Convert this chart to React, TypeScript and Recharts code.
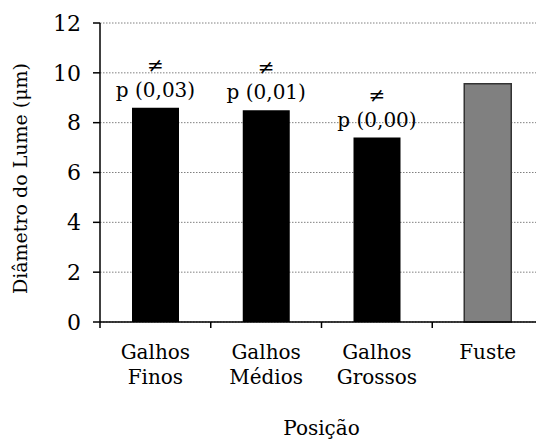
import { BarChart, Bar, XAxis, YAxis, CartesianGrid, Cell, LabelList, Label } from "recharts";

const categories = ["Galhos Finos", "Galhos Médios", "Galhos Grossos", "Fuste"];
const lumen = [8.6, 8.5, 7.4, 9.56];
const pValues = ["p (0,03)", "p (0,01)", "p (0,00)", ""];
const yTicks = [0, 2, 4, 6, 8, 10, 12];
const barColors = ["#000000", "#000000", "#000000", "#808080"];

const data = categories.map((c, i) => ({ posicao: c, diametro: lumen[i], p: pValues[i] }));

const FONT = "DejaVu Serif";
const txt = { fontFamily: FONT, fontSize: 20 };
const W = 545;
const H = 439;
const LEFT = 100;
const RIGHT = 2;
const BAND = (W - LEFT - RIGHT) / categories.length;

function PositionTick(props: any) {
  const { x, y, payload } = props;
  const lines = String(payload.value).split(" ");
  return (
    <g>
      <line x1={x - BAND / 2} x2={x - BAND / 2} y1={y} y2={y + 6} stroke="#000" strokeWidth={1.5} />
      <text x={x} y={y + 37} textAnchor="middle" style={txt} fill="#000">
        {lines.map((l, i) => (
          <tspan key={i} x={x} dy={i === 0 ? 0 : 25}>
            {l}
          </tspan>
        ))}
      </text>
    </g>
  );
}

function SigLabel(props: any) {
  const { x, y, width, value } = props;
  if (!value) return null;
  const cx = x + width / 2;
  return (
    <g>
      <text x={cx} y={y - 36} textAnchor="middle" style={txt} fill="#000">≠</text>
      <text x={cx} y={y - 11} textAnchor="middle" style={txt} fill="#000">{value}</text>
    </g>
  );
}

export default function App() {
  return (
    <div style={{ position: "absolute", left: 0, top: 0, width: 536, height: 439, overflow: "hidden", background: "#fff" }}>
      <BarChart width={W} height={H} data={data} margin={{ top: 23, right: RIGHT, bottom: 0, left: 0 }} barSize={47}>
        <CartesianGrid vertical={false} stroke="#808080" strokeDasharray="1.5 1.5" />
        <XAxis
          dataKey="posicao"
          height={117}
          tickLine={false}
          tickSize={0}
          tickMargin={0}
          axisLine={{ stroke: "#000", strokeWidth: 1.5 }}
          tick={<PositionTick />}
          interval={0}
        >
          <Label
            content={(p: any) => {
              const vb = p.viewBox;
              return (
                <text x={vb.x + vb.width / 2} y={vb.y + 113} textAnchor="middle" style={txt} fill="#000">
                  Posição
                </text>
              );
            }}
          />
        </XAxis>
        <YAxis
          width={LEFT}
          domain={[0, 12]}
          ticks={yTicks}
          tickSize={7}
          tickMargin={12}
          axisLine={{ stroke: "#000", strokeWidth: 1.5 }}
          tickLine={{ stroke: "#000", strokeWidth: 1.5 }}
          tick={{ style: { fontFamily: FONT, fontSize: 22 }, fontFamily: FONT, fontSize: 22, fill: "#000" }}
        >
          <Label
            content={(p: any) => {
              const vb = p.viewBox;
              const cy = vb.y + vb.height / 2 + 6;
              return (
                <text transform={`translate(27,${cy}) rotate(-90)`} textAnchor="middle" style={{ fontFamily: FONT, fontSize: 19 }} fill="#000">
                  Diâmetro do Lume (μm)
                </text>
              );
            }}
          />
        </YAxis>
        <Bar dataKey="diametro" isAnimationActive={false}>
          {data.map((d, i) => (
            <Cell key={d.posicao} fill={barColors[i]} stroke={i === 3 ? "#333" : barColors[i]} strokeWidth={i === 3 ? 1.5 : 0} />
          ))}
          <LabelList dataKey="p" content={<SigLabel />} />
        </Bar>
      </BarChart>
    </div>
  );
}
